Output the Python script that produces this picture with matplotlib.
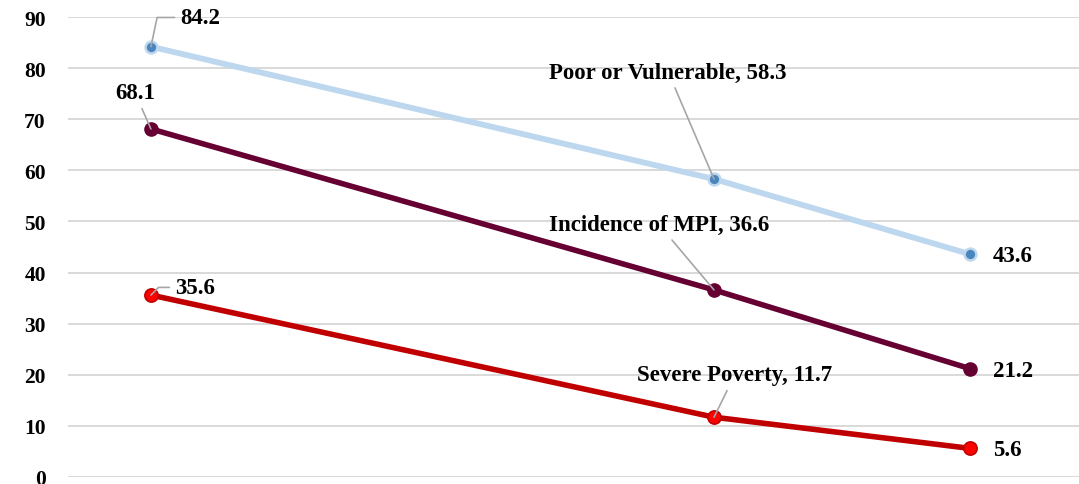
import matplotlib.pyplot as plt

# survey rounds (spacing in years between rounds)
rounds = [0, 11, 16]

poor_or_vulnerable = [84.2, 58.3, 43.6]
incidence_mpi = [68.1, 36.6, 21.2]
severe_poverty = [35.6, 11.7, 5.6]

y_ticks = [0, 10, 20, 30, 40, 50, 60, 70, 80, 90]

plt.rcParams['font.family'] = ['Liberation Serif', 'DejaVu Serif']
plt.rcParams['font.weight'] = 'bold'

fig = plt.figure(figsize=(10.79, 4.85), dpi=100)
ax = fig.add_axes([68 / 1079, 7 / 485, 1 - 68 / 1079, (478 - 18) / 485])

ax.plot(rounds, poor_or_vulnerable, color='#BDD7EE', lw=4.2, marker='o', ms=8.5,
        mfc='#4A86BE', mec='#BDD7EE', mew=1.8, zorder=3)
ax.plot(rounds, incidence_mpi, color='#660033', lw=4.0, marker='o', ms=9.5,
        mfc='#660033', mec='#660033', zorder=3)
ax.plot(rounds, severe_poverty, color='#C00000', lw=4.0, marker='o', ms=9.5,
        mfc='#FF0000', mec='#C00000', mew=1.2, zorder=3)

ax.set_ylim(0, 90)
ax.set_xlim(-1.62, 18.13)
ax.set_yticks(y_ticks)
ax.set_xticks([])
ax.tick_params(axis='y', length=0, pad=16, labelsize=15.5)
for lab in ax.get_yticklabels():
    lab.set_fontweight('bold')
ax.grid(axis='y', color='#D9D9D9', lw=1.4)
ax.set_axisbelow(True)
for s in ax.spines.values():
    s.set_visible(False)

lead = dict(arrowstyle='-', color='#A6A6A6', lw=1.2, shrinkA=2, shrinkB=0)
fs = 16.5


def note(text, x, y, dx, dy, ha='center', conn=None):
    props = dict(lead)
    if conn:
        props['connectionstyle'] = conn
    ax.annotate(text, xy=(x, y), xytext=(dx, dy), textcoords='offset points',
                ha=ha, va='center', fontsize=fs, fontweight='bold',
                arrowprops=props, zorder=4)


note(f'{poor_or_vulnerable[0]}', rounds[0], poor_or_vulnerable[0], 21, 21,
     ha='left', conn='angle,angleA=0,angleB=78,rad=0')
note(f'Poor or Vulnerable, {poor_or_vulnerable[1]}', rounds[1], poor_or_vulnerable[1], -33, 77)
note(f'{incidence_mpi[0]}', rounds[0], incidence_mpi[0], -11.5, 26)
note(f'Incidence of MPI, {incidence_mpi[1]}', rounds[1], incidence_mpi[1], -39.6, 47)
note(f'{severe_poverty[0]}', rounds[0], severe_poverty[0], 17.3, 5.5,
     ha='left', conn='angle,angleA=0,angleB=45,rad=0')
note(f'Severe Poverty, {severe_poverty[1]}', rounds[1], severe_poverty[1], 15, 30.5)

for series in (poor_or_vulnerable, incidence_mpi, severe_poverty):
    ax.annotate(f'{series[2]}', xy=(rounds[2], series[2]), xytext=(16.5, -1),
                textcoords='offset points', ha='left', va='center',
                fontsize=fs, fontweight='bold')

fig.savefig('out.png', dpi=100)
